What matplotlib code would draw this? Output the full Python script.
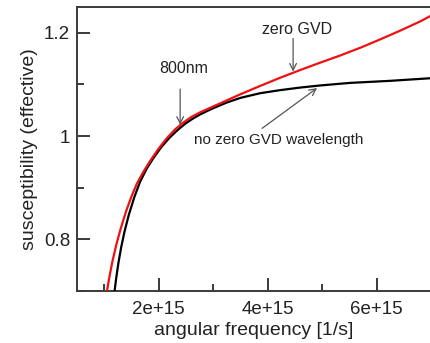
import numpy as np
import matplotlib
matplotlib.use("Agg")
import matplotlib.pyplot as plt
from matplotlib.ticker import MultipleLocator

# Data (angular frequency in units of 1e15 1/s, effective susceptibility)
red_omega = [1.03, 1.05, 1.10, 1.15, 1.22, 1.30, 1.40, 1.50, 1.60, 1.72, 1.85, 2.00,
             2.15, 2.30, 2.45, 2.60, 2.76, 3.13, 3.50, 3.86, 4.23, 4.60, 4.96, 5.33,
             5.70, 6.06, 6.43, 6.80, 7.05]
red_chi = [0.688, 0.700, 0.730, 0.757, 0.789, 0.820, 0.854, 0.883, 0.908, 0.931, 0.953, 0.976,
           0.996, 1.013, 1.026, 1.037, 1.046, 1.0635, 1.081, 1.097, 1.113, 1.128, 1.142, 1.156,
           1.171, 1.187, 1.204, 1.222, 1.236]
black_omega = [1.17, 1.19, 1.22, 1.26, 1.31, 1.37, 1.45, 1.55, 1.66, 1.78, 1.90, 2.05,
               2.20, 2.35, 2.50, 2.63, 2.76, 3.00, 3.25, 3.50, 3.86, 4.23, 4.60, 4.96,
               5.51, 6.25, 6.98, 7.05]
black_chi = [0.683, 0.700, 0.725, 0.754, 0.784, 0.814, 0.847, 0.881, 0.912, 0.937, 0.957, 0.979,
             0.997, 1.012, 1.025, 1.034, 1.042, 1.054, 1.065, 1.074, 1.083, 1.089, 1.094, 1.098,
             1.103, 1.107, 1.112, 1.112]

scale = 1e15
x_ticks = [2e15, 4e15, 6e15]
x_tick_labels = ["2e+15", "4e+15", "6e+15"]
y_ticks = [0.8, 1.0, 1.2]
y_tick_labels = ["0.8", "1", "1.2"]

plt.rcParams['font.family'] = ['Liberation Sans', 'DejaVu Sans']

fig = plt.figure(figsize=(4.30, 3.43), dpi=100)
ax = fig.add_axes([77 / 430, 1 - 291 / 343, (431 - 77) / 430, (291 - 7) / 343])

ax.plot(np.array(black_omega) * scale, black_chi, color='black', lw=1.6, zorder=3,
        solid_joinstyle='round')
ax.plot(np.array(red_omega) * scale, red_chi, color='#ee1111', lw=1.6, zorder=4,
        solid_joinstyle='round')

ax.set_xlim(0.5e15, 7e15)
ax.set_ylim(0.7, 1.25)

ax.set_xticks(x_ticks)
ax.set_xticklabels(x_tick_labels)
ax.set_yticks(y_ticks)
ax.set_yticklabels(y_tick_labels)
ax.xaxis.set_minor_locator(MultipleLocator(1e15))
ax.yaxis.set_minor_locator(MultipleLocator(0.1))

spine_col = '#3a3a3a'
for s in ax.spines.values():
    s.set_color(spine_col)
    s.set_linewidth(1.4)

ax.tick_params(which='both', direction='in', color=spine_col, width=1.4,
               top=False, right=False, labelsize=13.5, labelcolor='#222222')
ax.tick_params(axis='x', which='both', pad=7)
ax.tick_params(axis='y', which='both', pad=5)
ax.tick_params(which='major', length=9.5)
ax.tick_params(which='minor', length=5)

ax.set_xlabel('angular frequency [1/s]', fontsize=14, color='#222222', labelpad=3)
ax.set_ylabel('susceptibility (effective)', fontsize=14, color='#222222', labelpad=4)

arrow_kw = dict(arrowstyle='->', color='#555555', lw=0.9, shrinkA=0, shrinkB=0,
                mutation_scale=12)

# 800nm
ax.annotate('', xy=(2.394e15, 1.022), xytext=(2.394e15, 1.091), arrowprops=arrow_kw)
ax.text(2.468e15, 1.131, '800nm', fontsize=11.5, ha='center', va='center', color='#222222')

# zero GVD
ax.annotate('', xy=(4.468e15, 1.125), xytext=(4.468e15, 1.189), arrowprops=arrow_kw)
ax.text(4.541e15, 1.207, 'zero GVD', fontsize=11.5, ha='center', va='center', color='#222222')

# no zero GVD wavelength
ax.annotate('', xy=(4.908e15, 1.093), xytext=(3.899e15, 1.015), arrowprops=arrow_kw)
ax.text(4.20e15, 0.992, 'no zero GVD wavelength', fontsize=11, ha='center', va='center',
        color='#222222')

fig.savefig('out.png', dpi=100)
